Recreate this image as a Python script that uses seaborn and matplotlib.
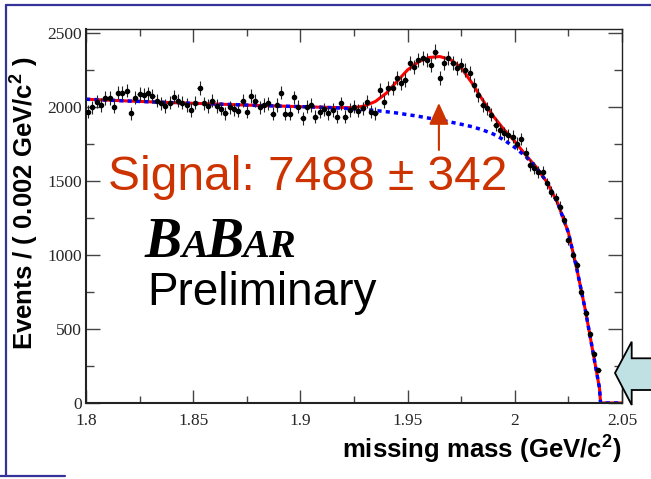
import numpy as np
import matplotlib
matplotlib.use("Agg")
import matplotlib.pyplot as plt
import seaborn as sns
from matplotlib.lines import Line2D
from matplotlib.patches import Polygon

# histogram: 0.002 GeV/c^2 bins starting at 1.8
bin_start = 1.8
bin_width = 0.002
counts = [
    1966, 1996, 2034, 2011, 2057, 2057, 2000, 2095, 2095, 2108,
    1955, 2061, 2084, 2079, 2090, 2072, 2041, 2023, 2005, 2027,
    2068, 2041, 2027, 2011, 1977, 2027, 2124, 2023, 2005, 2041,
    2005, 1985,
    1955, 1996, 1982, 1973, 2041, 1966, 2072, 2041, 1996, 2011,
    2023, 1951, 2011, 2095, 1951, 1951, 2063, 2000, 1921, 2000,
    2011, 1933, 1966, 1982, 1955, 1977, 1933, 2023, 1933, 1977,
    2000, 1973,
    1989, 2034, 1966, 1955, 2113, 2034, 2124, 2124, 2192, 2158,
    2180, 2293, 2270, 2315, 2327, 2315, 2282, 2371, 2196, 2293,
    2327, 2293, 2259, 2282, 2248, 2225, 2147, 2079, 2012,
    1989, 1944, 1877, 1843, 1820, 1809, 1798, 1750, 1780, 1685,
    1606, 1584, 1561, 1561, 1483, 1426, 1382, 1325, 1235, 1100,
    999, 931, 751, 605, 466, 331, 223,
]

# fit curves
fit_mass = [1.800, 1.820, 1.840, 1.860, 1.880, 1.900, 1.915, 1.925, 1.930,
            1.935, 1.940, 1.945, 1.950, 1.955, 1.960, 1.965, 1.970, 1.975,
            1.980, 1.985, 1.990, 1.995, 2.000, 2.005, 2.010, 2.015, 2.020,
            2.025, 2.029, 2.033, 2.036, 2.038, 2.0395, 2.040, 2.050]
bkg_fit = [2050, 2038, 2027, 2018, 2008, 2000, 1993, 1985, 1980,
           1974, 1966, 1957, 1946, 1935, 1922, 1910, 1896, 1881,
           1865, 1843, 1815, 1775, 1725, 1665, 1590, 1490, 1350,
           1150, 900, 620, 380, 220, 100, 0, 0]
total_fit = [2050, 2038, 2027, 2018, 2008, 2000, 1994, 1993, 2005,
             2035, 2090, 2170, 2248, 2302, 2332, 2338, 2318, 2262,
             2160, 2045, 1935, 1845, 1765, 1675, 1592, 1490, 1350,
             1150, 900, 620, 380, 220, 100, 0, 0]

signal_text = "Signal: 7488 \u00b1 342"
x_ticks = [1.8, 1.85, 1.9, 1.95, 2.0, 2.05]
x_tick_labels = ["1.8", "1.85", "1.9", "1.95", "2", "2.05"]
y_ticks = [0, 500, 1000, 1500, 2000, 2500]

W, H = 651, 479


def fx(px):
    return px / W


def fy(py):
    return 1 - py / H


sns.set_theme(style="ticks")
plt.rcParams["font.family"] = ["Liberation Sans", "DejaVu Sans"]
plt.rcParams["mathtext.fontset"] = "custom"
plt.rcParams["mathtext.bf"] = "Liberation Sans:bold"
plt.rcParams["mathtext.rm"] = "Liberation Sans"
plt.rcParams["mathtext.default"] = "bf"

counts = np.array(counts, dtype=float)
centers = bin_start + bin_width * (np.arange(len(counts)) + 0.5)

fig = plt.figure(figsize=(W / 100, H / 100), dpi=100)
fig.patch.set_facecolor("white")
ax = fig.add_axes([fx(86), fy(403), fx(622) - fx(86), fy(29) - fy(403)])

# fit curves: total (red) under background (blue dotted)
sns.lineplot(x=fit_mass, y=total_fit, ax=ax, color="#ff0000", lw=2.2,
             sort=False, estimator=None, zorder=2)
sns.lineplot(x=fit_mass, y=bkg_fit, ax=ax, color="#0000ff", lw=2.5,
             sort=False, estimator=None, zorder=2.5)
ax.lines[-1].set_dashes([1.2, 1.2])

ax.errorbar(centers, counts, yerr=np.sqrt(counts), xerr=bin_width / 2,
            fmt="o", ms=3, color="black", ecolor="#222222",
            elinewidth=0.8, capsize=0, zorder=3)

ax.set_xlim(1.8, 2.05)
ax.set_ylim(0, 2524)
ax.set_xticks(x_ticks)
ax.set_xticklabels(x_tick_labels)
ax.set_xticks(np.array(x_ticks[:-1]) + 0.025, minor=True)
ax.set_yticks(y_ticks)
ax.set_yticks(np.array(y_ticks[:-1]) + 250, minor=True)
ax.tick_params(axis="both", which="both", direction="in", top=True,
               right=True, color="#444444", labelsize=12.5)
ax.tick_params(axis="y", which="major", length=10, width=1, pad=3)
ax.tick_params(axis="y", which="minor", length=5.5, width=1)
ax.tick_params(axis="x", which="major", length=9.5, width=1, pad=7)
ax.tick_params(axis="x", which="minor", length=5, width=1)
for lab in ax.get_xticklabels() + ax.get_yticklabels():
    lab.set_family("Liberation Serif")
for side in ["left", "bottom"]:
    ax.spines[side].set_linewidth(1.5)
    ax.spines[side].set_color("#222222")
for side in ["top", "right"]:
    ax.spines[side].set_linewidth(1.0)
    ax.spines[side].set_color("#222222")

# axis titles
fig.text(fx(33.5), fy(203), "Events / ( 0.002 GeV/c$^{2}$ )", rotation=90,
         rotation_mode="anchor", ha="center", va="baseline",
         fontsize=18.5, fontweight="bold", color="black")
fig.text(fx(621), fy(459), "missing mass (GeV/c$^{2}$)", ha="right",
         va="baseline", fontsize=18.5, fontweight="bold", color="black")

# signal yield and arrow
fig.text(fx(108), fy(190), signal_text, ha="left", va="baseline",
         fontsize=34.5, color="#cc3300")
ax.annotate("", xy=(1.9646, 2025), xytext=(1.9646, 1708),
            arrowprops=dict(arrowstyle="-|>,head_length=1.1,head_width=0.5",
                            color="#cc3300", lw=1.5, shrinkA=0, shrinkB=0))

# BaBar logo with small caps
fig.canvas.draw()
renderer = fig.canvas.get_renderer()
x_cur = fx(145)
for piece, size in [("B", 40), ("A", 29), ("B", 40), ("AR", 29)]:
    t = fig.text(x_cur, fy(257), piece, ha="left", va="baseline",
                 fontsize=size, family="Liberation Serif", weight="bold",
                 style="italic", color="black")
    ext = t.get_window_extent(renderer)
    x_cur = ext.x1 / W - 0.002
fig.text(fx(147), fy(305), "Preliminary", ha="left", va="baseline",
         fontsize=33, color="black")

# slide frame
frame_col = "#333399"
fig.add_artist(Line2D([fx(6), fx(651)], [fy(5), fy(5)], color=frame_col, lw=1.6))
fig.add_artist(Line2D([fx(6), fx(6)], [fy(5), fy(476)], color=frame_col, lw=1.6))
fig.add_artist(Line2D([fx(0), fx(65)], [fy(476), fy(476)], color=frame_col, lw=1.6))

# cyan arrow at the right edge
arrow_px = [(615, 373), (631.7, 341.7), (631.7, 358.3), (655, 358.3),
            (655, 390), (631.7, 390), (631.7, 405)]
fig.add_artist(Polygon([(fx(a), fy(b)) for a, b in arrow_px], closed=True,
                       facecolor="#bfe1e4", edgecolor="black", lw=1.3))

fig.savefig("out.png", dpi=100)
